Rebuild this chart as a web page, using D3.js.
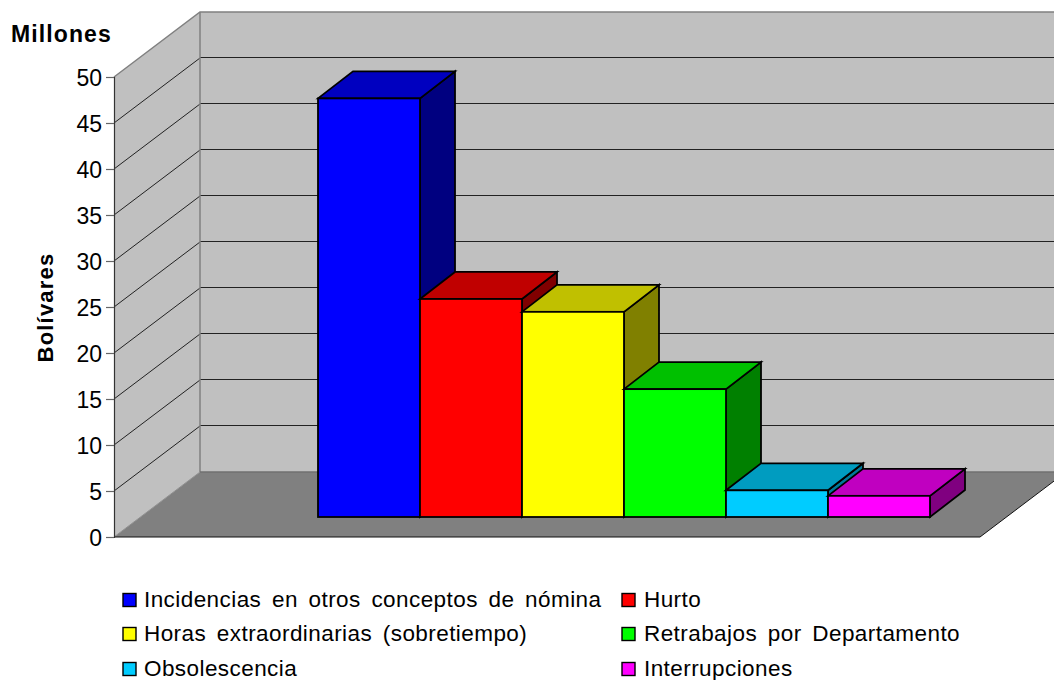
<!DOCTYPE html>
<html>
<head>
<meta charset="utf-8">
<script src="https://cdn.jsdelivr.net/npm/d3@7"></script>
<style>
html,body{margin:0;padding:0;background:#fff}
svg{display:block}
text{font-family:"Liberation Sans",Arial,sans-serif;fill:#000}
</style>
</head>
<body>
<svg id="chart" width="1054" height="680"></svg>
<script>
// Values in millions of bolívares
const categories = [
  "Incidencias en otros conceptos de nómina",
  "Hurto",
  "Horas extraordinarias (sobretiempo)",
  "Retrabajos por Departamento",
  "Obsolescencia",
  "Interrupciones"
];
const values = [45.5, 23.7, 22.3, 13.9, 2.9, 2.3];
const frontColors = ["#0000ff", "#ff0000", "#ffff00", "#00ff00", "#00ccff", "#ff00ff"];
const topColors   = ["#0000c0", "#c00000", "#c0c000", "#00c000", "#009cc0", "#c000c0"];
const sideColors  = ["#000080", "#800000", "#808000", "#008000", "#007a99", "#800080"];
const yTicks = [0, 5, 10, 15, 20, 25, 30, 35, 40, 45, 50];
const legendRows = [0, 0, 1, 1, 2, 2];

const svg = d3.select("#chart");

// Plot box: front plane, plus the oblique offset to the back wall
const y = d3.scaleLinear().domain([0, 50]).range([537, 77]);
const frontLeft = 114, frontRight = 980;
const depthX = 86, depthY = -65;

// Bars stand part-way into the floor, one band per category
const x = d3.scaleBand().domain(categories).range([318, 930]).padding(0);
const barDepth = {x: 35, y: -27};
const barFloorLift = 20;

const poly = pts => pts.map(p => p.join(",")).join(" ");
const walls = svg.append("g");

// Back wall
walls.append("polygon")
  .attr("points", poly([
    [frontLeft + depthX, y(50) + depthY], [frontRight + depthX, y(50) + depthY],
    [frontRight + depthX, y(0) + depthY], [frontLeft + depthX, y(0) + depthY]]))
  .attr("fill", "#c0c0c0");

// Left wall
walls.append("polygon")
  .attr("points", poly([
    [frontLeft, y(50)], [frontLeft + depthX, y(50) + depthY],
    [frontLeft + depthX, y(0) + depthY], [frontLeft, y(0)]]))
  .attr("fill", "#c0c0c0");

// Floor
walls.append("polygon")
  .attr("points", poly([
    [frontLeft, y(0)], [frontLeft + depthX, y(0) + depthY],
    [frontRight + depthX, y(0) + depthY], [frontRight, y(0)]]))
  .attr("fill", "#808080");

// Gridlines run across the left wall and along the back wall
const grid = svg.append("g").attr("fill", "none").attr("stroke", "#222").attr("stroke-width", 1);
yTicks.filter(t => t > 0 && t < 50).forEach(t => {
  grid.append("line")
    .attr("x1", frontLeft).attr("y1", y(t))
    .attr("x2", frontLeft + depthX).attr("y2", y(t) + depthY);
  grid.append("line")
    .attr("x1", frontLeft + depthX).attr("y1", y(t) + depthY - 0.5)
    .attr("x2", frontRight + depthX).attr("y2", y(t) + depthY - 0.5);
});

// Wall edges
const edges = svg.append("g").attr("fill", "none").attr("stroke", "#808080").attr("stroke-width", 1.5);
edges.append("polyline").attr("points", poly([
  [frontLeft, y(50)], [frontLeft + depthX, y(50) + depthY], [frontRight + depthX, y(50) + depthY]]));
edges.append("line")
  .attr("x1", frontLeft + depthX).attr("x2", frontLeft + depthX)
  .attr("y1", y(50) + depthY).attr("y2", y(0) + depthY);
edges.append("line")
  .attr("x1", frontLeft + depthX).attr("x2", frontRight + depthX)
  .attr("y1", y(0) + depthY).attr("y2", y(0) + depthY)
  .attr("stroke", "#707070");
edges.append("line")
  .attr("x1", frontLeft).attr("x2", frontLeft + depthX)
  .attr("y1", y(0)).attr("y2", y(0) + depthY)
  .attr("stroke", "#909090").attr("stroke-width", 1);

// Floor front edge and right edge
svg.append("polyline")
  .attr("points", poly([[frontLeft, y(0)], [frontRight, y(0)], [frontRight + depthX, y(0) + depthY]]))
  .attr("fill", "none").attr("stroke", "#111").attr("stroke-width", 1);

// Bars, painted left to right so each one overlaps its neighbour's side
const bars = svg.append("g").attr("stroke", "#000").attr("stroke-width", 1.8).attr("stroke-linejoin", "miter");
categories.forEach((c, i) => {
  const x0 = x(c), x1 = x0 + x.bandwidth();
  const yb = y(0) - barFloorLift, yt = y(values[i]) - barFloorLift;
  const g = bars.append("g");
  g.append("polygon").attr("fill", sideColors[i]).attr("points", poly([
    [x1, yt], [x1 + barDepth.x, yt + barDepth.y], [x1 + barDepth.x, yb + barDepth.y], [x1, yb]]));
  g.append("polygon").attr("fill", topColors[i]).attr("points", poly([
    [x0, yt], [x0 + barDepth.x, yt + barDepth.y], [x1 + barDepth.x, yt + barDepth.y], [x1, yt]]));
  g.append("rect").attr("fill", frontColors[i])
    .attr("x", x0).attr("y", yt).attr("width", x1 - x0).attr("height", yb - yt);
});

// Value axis
const axis = svg.append("g")
  .attr("transform", `translate(${frontLeft},0)`)
  .call(d3.axisLeft(y).tickValues(yTicks).tickSize(8).tickPadding(4).tickFormat(d3.format("d")));
axis.select(".domain").attr("stroke", "#333").attr("stroke-width", 1.2);
axis.selectAll(".tick line").attr("stroke", "#666").attr("stroke-width", 1.2);
axis.selectAll(".tick text").attr("font-size", 23).attr("dy", "0.36em")
  .attr("font-family", '"Liberation Sans",Arial,sans-serif').attr("fill", "#000");

// Axis titles
svg.append("text").attr("x", 11).attr("y", 42)
  .attr("font-size", 23).attr("letter-spacing", 1.1).attr("font-weight", "bold").text("Millones");
svg.append("text").attr("transform", "translate(53,307.5) rotate(-90)")
  .attr("text-anchor", "middle").attr("font-size", 22).attr("letter-spacing", 1.2)
  .attr("font-weight", "bold").text("Bolívares");

// Legend, two columns by three rows
const legendRowY = [599, 633, 668];
const legendSwatchX = [123, 622];
const legendTextX = [144, 644];
const legend = svg.append("g");
categories.forEach((c, i) => {
  const col = i % 2, row = legendRows[i];
  legend.append("rect")
    .attr("x", legendSwatchX[col]).attr("y", legendRowY[row] - 5.5)
    .attr("width", 13).attr("height", 13)
    .attr("fill", frontColors[i]).attr("stroke", "#000").attr("stroke-width", 1.4);
  legend.append("text")
    .attr("x", legendTextX[col]).attr("y", legendRowY[row] + 7.5)
    .attr("font-size", 22.5).attr("letter-spacing", 0.43).attr("word-spacing", 4).text(c);
});
</script>
</body>
</html>
